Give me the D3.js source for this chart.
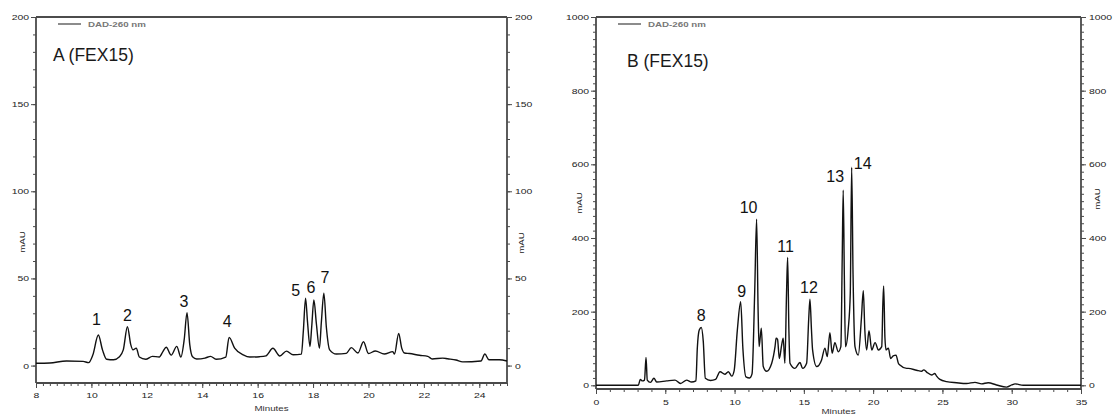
<!DOCTYPE html>
<html><head><meta charset="utf-8">
<script src="https://cdn.jsdelivr.net/npm/d3@7"></script>
<style>
html,body{margin:0;padding:0;background:#fff;}
svg{display:block;font-family:"Liberation Sans",Arial,sans-serif;}
</style></head>
<body><svg id="c" width="1115" height="416"></svg>
<script>
// ---------- data ----------
const timesA = [8.0,8.5,9.1,9.7,9.9,10.05,10.25,10.4,10.55,10.8,11.0,11.15,11.3,11.42,11.5,11.62,11.73,11.96,12.2,12.45,12.58,12.7,12.88,13.08,13.23,13.35,13.45,13.55,13.65,13.8,14.1,14.3,14.5,14.85,14.97,15.17,15.48,15.72,16.07,16.3,16.55,16.8,17.04,17.28,17.58,17.65,17.73,17.8,17.89,17.95,18.03,18.12,18.23,18.3,18.39,18.48,18.6,18.84,19.2,19.38,19.62,19.82,20.0,20.25,20.57,20.88,20.94,21.09,21.2,21.3,21.48,21.84,22.14,22.3,22.68,22.86,23.16,23.4,24.06,24.2,24.35,24.72,25.0];
const valuesA = [1.3,1.5,2.6,2.4,1.7,6,17.5,9,3.6,3.3,4.9,9,22.3,12,9,10,4.9,3.6,5.3,4.9,8,10.5,6,11,4.9,15,30.4,12,5,3.8,4.3,5.3,3.6,4.9,16.2,10,6.2,4.9,5.1,5.6,9.9,5.5,8.3,6.2,6.6,20,38.6,25,10.9,22,37.6,24,10,25,41.5,22,9,6.6,7,10.3,7.2,13.7,6.9,8.4,6.6,8,6.6,18.5,10,7.2,6.9,5.9,5.3,3.8,4.3,3.9,3.2,2.1,2.6,6.6,3.3,3.3,2.6];
const timesB = [0,3.05,3.2,3.35,3.5,3.61,3.7,3.93,4.18,4.38,5.1,5.7,6.1,6.54,6.9,7.21,7.31,7.45,7.6,7.74,7.89,8.27,8.63,8.95,9.3,9.55,9.8,9.97,10.2,10.44,10.6,10.82,11.09,11.26,11.45,11.59,11.7,11.77,11.93,12.07,12.31,12.68,12.92,13.0,13.1,13.23,13.4,13.51,13.63,13.75,13.83,13.92,14.0,14.36,14.72,14.91,15.2,15.35,15.44,15.55,15.63,15.92,16.28,16.52,16.69,16.88,17.04,17.24,17.48,17.67,17.77,17.84,17.92,18.0,18.2,18.35,18.45,18.55,18.69,18.93,19.15,19.29,19.4,19.53,19.7,19.9,20.14,20.38,20.62,20.7,20.76,20.85,20.93,21.1,21.26,21.45,21.65,21.82,21.93,22.42,22.53,23.13,23.5,23.65,23.86,24.22,24.45,24.58,24.82,25.3,26.02,26.74,27.35,27.83,28.3,28.9,29.63,30.0,30.24,30.83,32.3,35];
const valuesB = [0,0,16,12,14,76,14,8,19,9,12,14,5,14,9,12,100,150,157,120,19,13,16,37,30,37,25,40,150,227,100,23,20,31,250,451,200,105,155,51,38,60,105,128,125,73,110,128,60,250,347,150,60,46,62,46,60,180,234,150,96,51,69,101,78,143,87,116,91,105,350,530,300,105,152,250,592,300,105,82,180,257,150,96,148,96,116,96,105,220,270,130,96,101,73,80,82,60,55,46,46,41,38,42,36,28,32,25,16,10,7,5,8,4,7,1,-5,1,4,0,0,0];
const xTicksA = [8,10,12,14,16,18,20,22,24];
const yTicksA = [0,50,100,150,200];
const xTicksB = [0,5,10,15,20,25,30,35];
const yTicksB = [0,200,400,600,800,1000];
const peakNamesA = ["1","2","3","4","5","6","7"];
const peakTimesA = [10.25,11.3,13.45,14.97,17.73,18.03,18.39];
const peakNamesB = ["8","9","10","11","12","13","14"];
const peakTimesB = [7.6,10.44,11.59,13.83,15.44,17.84,18.45];

// ---------- layout ----------
const svg = d3.select("#c");
const STRETCH = 1.3;

function stretchText(sel){
  sel.each(function(){
    const l = this.getComputedTextLength();
    d3.select(this).attr("textLength", l*STRETCH).attr("lengthAdjust","spacingAndGlyphs");
  });
}

function panel(cfg){
  const g = svg.append("g");
  const x = d3.scaleLinear().domain(cfg.xDom).range([cfg.left, cfg.right]);
  const y = d3.scaleLinear().domain(cfg.yDom).range([cfg.bottom, cfg.top]);
  const axisColor = "#4a4a4a";

  // minor ticks
  const minorX = d3.range(cfg.xDom[0], cfg.xDom[1]+1e-9, cfg.xMinor);
  const minorY = d3.range(0, cfg.yDom[1]+1e-9, cfg.yMinor);
  g.append("g").attr("transform",`translate(0,${cfg.bottom})`)
    .call(d3.axisBottom(x).tickValues(minorX).tickSize(3).tickFormat(""))
    .call(a=>a.select(".domain").remove());
  g.append("g").attr("transform",`translate(${cfg.left},0)`)
    .call(d3.axisLeft(y).tickValues(minorY).tickSize(3).tickFormat(""))
    .call(a=>a.select(".domain").remove());
  g.append("g").attr("transform",`translate(${cfg.right},0)`)
    .call(d3.axisRight(y).tickValues(minorY).tickSize(3).tickFormat(""))
    .call(a=>a.select(".domain").remove());

  // major axes
  const ax = g.append("g").attr("transform",`translate(0,${cfg.bottom})`)
    .call(d3.axisBottom(x).tickValues(cfg.xTicks).tickSize(5).tickPadding(cfg.xPad).tickFormat(d3.format("d")));
  const ayl = g.append("g").attr("transform",`translate(${cfg.left},0)`)
    .call(d3.axisLeft(y).tickValues(cfg.yTicks).tickSize(5).tickPadding(2).tickFormat(d3.format("d")));
  const ayr = g.append("g").attr("transform",`translate(${cfg.right},0)`)
    .call(d3.axisRight(y).tickValues(cfg.yTicks).tickSize(5).tickPadding(3).tickFormat(d3.format("d")));
  g.selectAll(".tick line").attr("stroke", axisColor).attr("stroke-width",1);
  [ax,ayl,ayr].forEach(a=>{
    a.select(".domain").remove();
    a.selectAll("text").attr("font-size",8).attr("fill","#222")
      .attr("font-family","Liberation Sans, Arial, sans-serif");
  });
  g.selectAll(".tick text").call(stretchText);

  // frame
  g.append("line").attr("x1",cfg.left).attr("x2",cfg.right).attr("y1",cfg.top).attr("y2",cfg.top)
    .attr("stroke","#111").attr("stroke-width",1.5);
  g.append("line").attr("x1",cfg.left).attr("x2",cfg.right).attr("y1",cfg.bottom).attr("y2",cfg.bottom)
    .attr("stroke",axisColor).attr("stroke-width",1.8);
  g.append("line").attr("x1",cfg.left).attr("x2",cfg.left).attr("y1",cfg.top).attr("y2",cfg.bottom)
    .attr("stroke",axisColor).attr("stroke-width",1.8);
  g.append("line").attr("x1",cfg.right).attr("x2",cfg.right).attr("y1",cfg.top).attr("y2",cfg.bottom)
    .attr("stroke",axisColor).attr("stroke-width",1.8);

  // trace
  const pts = cfg.times.map((t,i)=>[t, cfg.values[i]]);
  g.append("path").datum(pts)
    .attr("fill","none").attr("stroke","#111").attr("stroke-width",1.4).attr("stroke-linejoin","round")
    .attr("d", d3.line().curve(d3.curveMonotoneX).x(d=>x(d[0])).y(d=>y(d[1])));

  // legend
  g.append("line").attr("x1",cfg.left+22).attr("x2",cfg.left+45).attr("y1",24).attr("y2",24)
    .attr("stroke","#666").attr("stroke-width",1.5);
  g.append("text").attr("x",cfg.left+52).attr("y",27).text("DAD-260 nm")
    .attr("font-size",7.5).attr("font-weight","bold").attr("fill","#777").call(stretchText);

  // title
  g.append("text").attr("x",cfg.titleX).attr("y",cfg.titleY).text(cfg.title)
    .attr("font-size",17.5).attr("fill","#1a1a1a");

  // axis titles
  g.append("text").attr("x",(cfg.left+cfg.right)/2).attr("y",cfg.minY).attr("text-anchor","middle")
    .text("Minutes").attr("font-size",7.5).attr("fill","#333").call(stretchText);
  cfg.mau.forEach(m=>{
    g.append("text").attr("transform",`translate(${m[0]},${m[1]}) rotate(-90)`).attr("text-anchor","middle")
      .text("mAU").attr("font-size",7.5).attr("fill","#222").call(stretchText);
  });

  // peak labels
  cfg.peakNames.forEach((n,i)=>{
    const t = cfg.peakTimes[i];
    const idx = cfg.times.indexOf(t);
    const v = cfg.values[idx];
    g.append("text").attr("x", x(t)+cfg.labelDx[i]).attr("y", y(v)+cfg.labelDy[i])
      .attr("text-anchor","middle").attr("font-size",16).attr("fill","#111").text(n);
  });
}

panel({
  xDom:[8,25], yDom:[-10,200], left:36, right:507, top:17, bottom:383,
  xTicks:xTicksA, yTicks:yTicksA, xMinor:0.25, yMinor:10, xPad:4,
  times:timesA, values:valuesA,
  title:"A (FEX15)", titleX:53, titleY:61, minY:411,
  mau:[[25,242],[524,243]],
  peakNames:peakNamesA, peakTimes:peakTimesA,
  labelDx:[-2,0,-3,-2,-10,-3,1], labelDy:[-10,-6,-6,-10,-2,-7,-10]
});
panel({
  xDom:[0,35], yDom:[-10,1000], left:596, right:1081, top:17, bottom:389,
  xTicks:xTicksB, yTicks:yTicksB, xMinor:1, yMinor:20, xPad:5,
  times:timesB, values:valuesB,
  title:"B (FEX15)", titleX:627, titleY:67, minY:414,
  mau:[[582,203],[1100,199]],
  peakNames:peakNamesB, peakTimes:peakTimesB,
  labelDx:[0,1,-8,-2,-1,-8,11], labelDy:[-6,-5,-6,-6,-6,-8,2]
});
</script></body></html>
